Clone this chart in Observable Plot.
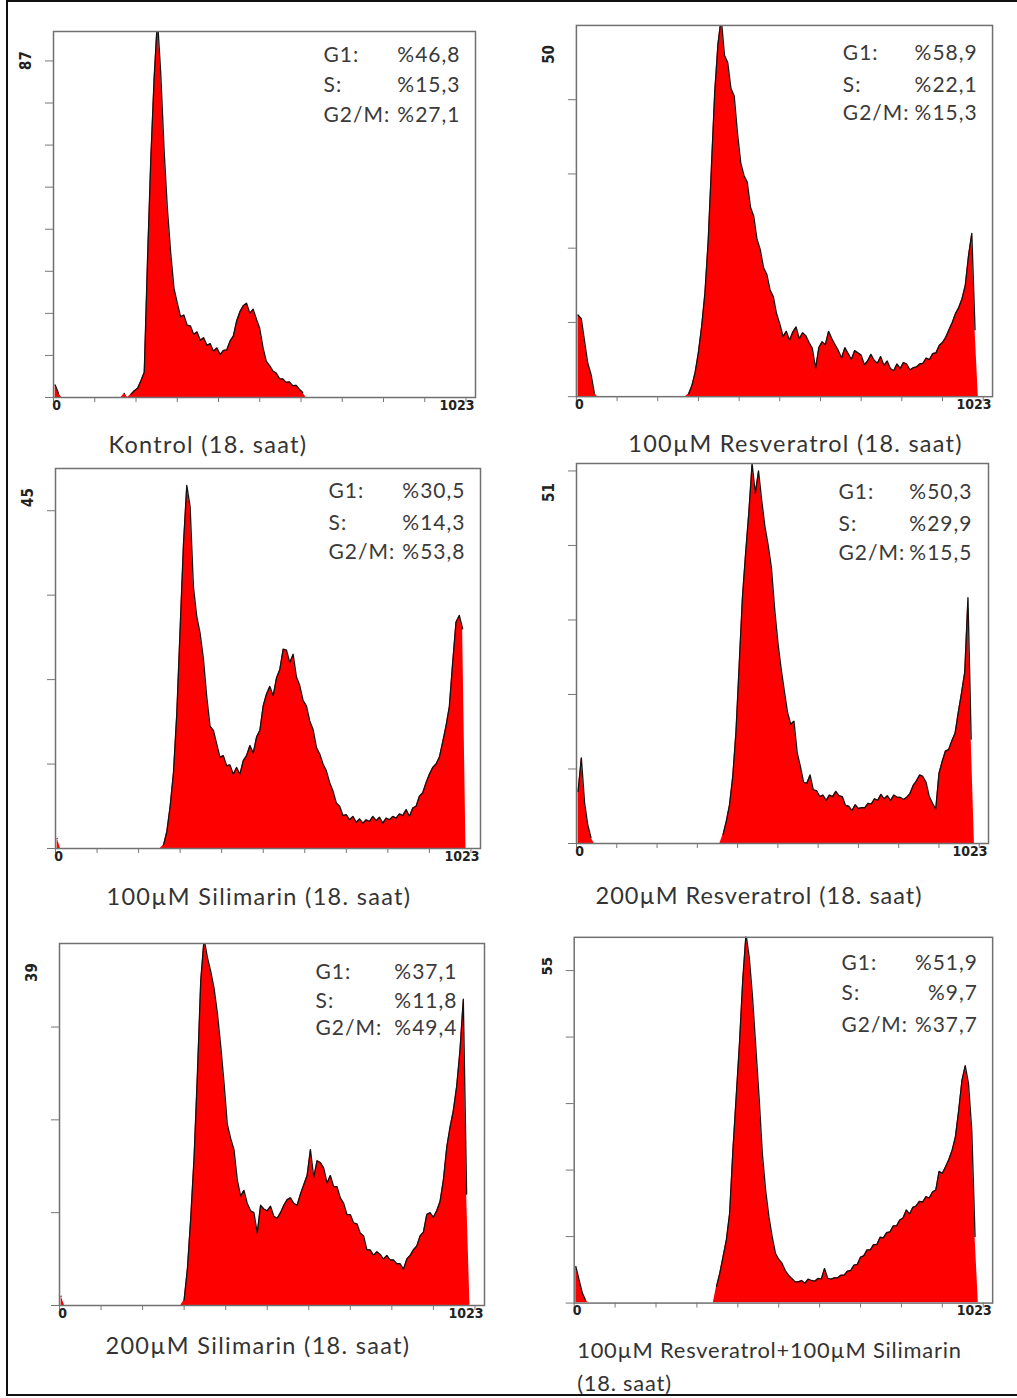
<!DOCTYPE html>
<html>
<head>
<meta charset="utf-8">
<script src="https://cdn.jsdelivr.net/npm/d3@7"></script>
<script src="https://cdn.jsdelivr.net/npm/@observablehq/plot@0.6"></script>
<style>
  html, body { margin: 0; padding: 0; background: #fff; }
  #page { position: relative; width: 1017px; height: 1398px; overflow: hidden; background: #fff; }
  #border { position: absolute; left: 6px; top: 0; width: 1030px; height: 1392px; border: 2px solid #111; border-right: none; }
  .cell { position: absolute; }
  .cell svg { overflow: visible; }
</style>
</head>
<body>
<div id="page"><div id="border"></div></div>
<script>
// ---------- data ----------
const titles = [
  "Kontrol (18. saat)",
  "100µM Resveratrol (18. saat)",
  "100µM Silimarin (18. saat)",
  "200µM Resveratrol (18. saat)",
  "200µM Silimarin (18. saat)",
  "100µM Resveratrol+100µM Silimarin\n(18. saat)"
];
const yMaxLabels = [87, 50, 45, 51, 39, 55];
const yTickValues = [
  [0, 10, 20, 30, 40, 50, 60, 70, 80],
  [0, 10, 20, 30, 40],
  [0, 10, 20, 30, 40],
  [0, 10, 20, 30, 40, 50],
  [0, 10, 20, 30],
  [0, 10, 20, 30, 40, 50]
];
const xTicks = [0, 100, 200, 300, 400, 500, 600, 700, 800, 900, 1000];
const xEndLabel = "1023";
const phaseNames = ["G1:", "S:", "G2/M:"];
const g1Values  = ["%46,8", "%58,9", "%30,5", "%50,3", "%37,1", "%51,9"];
const sValues   = ["%15,3", "%22,1", "%14,3", "%29,9", "%11,8", "%9,7"];
const g2mValues = ["%27,1", "%15,3", "%53,8", "%15,5", "%49,4", "%37,7"];
const binWidth = 8; // channels per histogram bin (128 bins over 0–1023)

// histogram counts, 128 bins each (16 per row)
const kontrol = [
  3, 1, 0, 0, 0, 0, 0, 0, 0, 0, 0, 0, 0, 0, 0, 0,
  0, 0, 0, 0, 0, 1, 0, 0.8, 1.6, 2.2, 4, 6, 33, 57, 76, 90,
  77, 59, 45, 34.5, 26, 22.5, 19.2, 19.6, 17.2, 17.0, 15.0, 15.6, 13.6, 14.2, 12.4, 12.8,
  11.0, 11.8, 10.2, 11.2, 11.3, 13.4, 14.6, 18.2, 20.4, 21.8, 22.4, 20.0, 21.0, 18.6, 16.4, 11.8,
  8.6, 7.6, 6.3, 5.8, 4.5, 4.4, 3.6, 3.7, 2.8, 2.9, 2.0, 1.2, 0, 0, 0, 0,
  0, 0, 0, 0, 0, 0, 0, 0, 0, 0, 0, 0, 0, 0, 0, 0,
  0, 0, 0, 0, 0, 0, 0, 0, 0, 0, 0, 0, 0, 0, 0, 0,
  0, 0, 0, 0, 0, 0, 0, 0, 0, 0, 0, 0, 0, 0, 0, 0
];
const resveratrol100 = [
  11, 10.5, 7.5, 4.5, 3, 0.5, 0, 0, 0, 0, 0, 0, 0, 0, 0, 0,
  0, 0, 0, 0, 0, 0, 0, 0, 0, 0, 0, 0, 0, 0, 0, 0,
  0, 0, 0.4, 1.5, 3.3, 6, 9.5, 14, 21, 31, 41, 47.5, 51, 46, 45, 41.5,
  40.5, 35.5, 31.5, 29.8, 28.9, 25.5, 24.3, 21.2, 19.8, 17.4, 16.5, 14.4, 13.5, 11.2, 9.8, 8.1,
  8.8, 7.6, 8.7, 9.4, 7.8, 8.6, 8.2, 7.3, 6.5, 3.8, 6.6, 7.4, 7, 8.8, 7.8, 7,
  6.2, 5.2, 6.6, 5.8, 5.0, 6.2, 5.9, 5.6, 4.3, 4.8, 5.7, 4.9, 4.5, 5.4, 4.2, 4.8,
  3.8, 3.5, 4.4, 3.8, 4.6, 4.4, 3.6, 3.9, 4.0, 4.4, 4.5, 5.2, 5.0, 5.8, 5.9, 6.9,
  7.3, 8, 9, 10, 11.2, 12, 13.2, 15, 19, 22, 9, 0, 0, 0, 0, 0
];
const silimarin100 = [
  1.2, 0, 0, 0, 0, 0, 0, 0, 0, 0, 0, 0, 0, 0, 0, 0,
  0, 0, 0, 0, 0, 0, 0, 0, 0, 0, 0, 0, 0, 0, 0, 0,
  0.4, 2, 5, 9, 16, 26, 36, 43, 40.5, 31, 27.5, 25.5, 22.5, 18, 14.5, 14,
  12.4, 10.8, 11.0, 9.8, 9.9, 8.8, 9.6, 8.8, 10.4, 11.0, 12.2, 11.3, 13.2, 14.0, 16.9, 18.3,
  19.2, 18.1, 20.2, 21.2, 23.6, 23.5, 22.0, 23.0, 20.3, 19.3, 17.5, 16.9, 15.1, 14.1, 12.0, 11.2,
  10.0, 9.2, 7.8, 6.8, 5.4, 5.0, 3.9, 4.0, 3.4, 3.8, 3.1, 3.5, 3.0, 3.4, 3.2, 3.8,
  3.3, 3.7, 3.0, 3.6, 3.4, 3.8, 3.6, 4.1, 3.9, 4.6, 3.8, 4.8, 5.0, 6.2, 6.6, 7.8,
  8.8, 9.6, 10, 10.8, 12.6, 14.5, 16.8, 22, 26.8, 27.6, 26, 0, 0, 0, 0, 0
];
const resveratrol200 = [
  7, 11.5, 5.5, 2.5, 0.8, 0, 0, 0, 0, 0, 0, 0, 0, 0, 0, 0,
  0, 0, 0, 0, 0, 0, 0, 0, 0, 0, 0, 0, 0, 0, 0, 0,
  0, 0, 0, 0, 0, 0, 0, 0, 0, 0, 0, 0, 0, 1.2, 3, 5.2,
  9, 15, 24, 33, 39, 44.5, 51, 47, 50, 46, 42.5, 40, 37, 31.5, 27, 23.5,
  20.5, 17.6, 16.0, 16.4, 12.2, 10.3, 8.2, 8.1, 9.2, 7.2, 7.1, 6.3, 6.5, 5.8, 6.5, 6.3,
  7.0, 6.4, 6.3, 5.1, 5.0, 4.4, 5.2, 4.7, 4.8, 4.8, 5.4, 5.3, 6.0, 5.8, 6.6, 6.0,
  6.4, 5.8, 6.5, 6.2, 6.2, 5.9, 6.2, 6.7, 7.8, 8.4, 9.2, 9.0, 8.2, 6.3, 5.4, 4.6,
  9.4, 11.0, 12.4, 12.6, 13.8, 14.8, 17.6, 20.2, 23, 33, 14, 0, 0, 0, 0, 0
];
const silimarin200 = [
  1, 0, 0, 0, 0, 0, 0, 0, 0, 0, 0, 0, 0, 0, 0, 0,
  0, 0, 0, 0, 0, 0, 0, 0, 0, 0, 0, 0, 0, 0, 0, 0,
  0, 0, 0, 0, 0, 0.6, 4, 9.5, 16, 25, 35, 39.5, 37.5, 36, 34.2, 31.5,
  28, 24, 19.5, 18, 16.8, 13.5, 11.8, 12.4, 11, 10.2, 10, 7.8, 10.8, 10.4, 10.2, 10.7,
  9.6, 9.4, 10, 10.8, 11.4, 11.6, 11, 10.8, 12, 13, 14, 16.8, 13.8, 15.6, 15.4, 14.8,
  13.2, 14.0, 12.8, 12.8, 11.6, 11.0, 9.8, 9.8, 8.9, 8.8, 7.8, 7.5, 6.0, 6.0, 5.4, 5.8,
  5.5, 5.0, 5.4, 4.9, 4.9, 4.5, 4.5, 3.9, 5.0, 5.4, 6.0, 6.4, 7.5, 7.9, 9.8, 10.0,
  9.5, 10.2, 11.2, 13.5, 17, 19.2, 21, 23.6, 27.5, 33, 12, 0, 0, 0, 0, 0
];
const combination = [
  5.5, 3.5, 1.5, 0.4, 0, 0, 0, 0, 0, 0, 0, 0, 0, 0, 0, 0,
  0, 0, 0, 0, 0, 0, 0, 0, 0, 0, 0, 0, 0, 0, 0, 0,
  0, 0, 0, 0, 0, 0, 0, 0, 0, 0, 0, 2.5, 4.5, 7, 9.5, 13.5,
  23, 31, 39, 48.5, 55.5, 52, 46, 38.5, 31, 22.5, 17, 13, 10, 7.5, 6.6, 6,
  4.9, 4.2, 3.7, 3.2, 3.2, 3.4, 3.0, 3.6, 3.4, 3.3, 3.7, 3.6, 5.2, 3.7, 3.6, 3.8,
  3.8, 4.2, 4.2, 4.8, 4.9, 5.7, 5.8, 6.9, 7.1, 8.0, 8.0, 8.8, 8.8, 9.9, 9.8, 10.6,
  10.7, 11.6, 11.6, 12.5, 12.8, 14.0, 13.4, 14.4, 14.6, 15.3, 15.2, 16.0, 15.8, 16.7, 17.0, 19.8,
  19.5, 20.5, 21.6, 23, 25, 29, 33.5, 35.7, 33, 26, 10, 0, 0, 0, 0, 0
];
const series = [kontrol, resveratrol100, silimarin100, resveratrol200, silimarin200, combination];

// ---------- layout (page coordinates of each plot frame, text offsets and sizes) ----------
const layout = [
  {L: 53,  R: 475, T: 31,  B: 397,  tx: 55, ty: 44, tfs: 23.5, tls: 1.3, lx: 152, vx: 15, ay: [24, 54, 84]},
  {L: 576, R: 993, T: 25,  B: 397,  tx: 52, ty: 44, tfs: 23.5, tls: 1.3, lx: 150, vx: 15, ay: [28, 60, 88]},
  {L: 55,  R: 480, T: 468, B: 848,  tx: 51, ty: 45, tfs: 23.5, tls: 1.3, lx: 152, vx: 15, ay: [23, 55, 84]},
  {L: 576, R: 988, T: 463, B: 843,  tx: 19, ty: 49, tfs: 23.5, tls: 1.0, lx: 150, vx: 16, ay: [29, 61, 90]},
  {L: 59,  R: 484, T: 943, B: 1305, tx: 46, ty: 37, tfs: 23.5, tls: 1.3, lx: 169, vx: 27, ay: [29, 58, 85]},
  {L: 574, R: 995, T: 937, B: 1305, tx: 3,  ty: 61, tfs: 22,   tls: 0.8, lx: 152, vx: 15, ay: [26, 56, 89]}
];

const textFont = "Lato, 'Open Sans', sans-serif";
const axisFont = "'Liberation Sans Narrow', 'DejaVu Sans Condensed', 'Liberation Sans', sans-serif";
const page = document.getElementById("page");

series.forEach((counts, i) => {
  if (counts.length !== 128) throw new Error("series " + i + " has " + counts.length + " bins");
  const p = layout[i];
  const data = counts.map((c, k) => ({ch: k * binWidth + binWidth / 2, c}));
  const mL = 50, mT = 30, mR = 25, mB = 100;
  const w = p.R - p.L, h = p.B - p.T;
  const vals = [g1Values[i], sValues[i], g2mValues[i]];
  const annot = [];
  phaseNames.forEach((name, r) => {
    annot.push(Plot.text([name], {text: d => d, frameAnchor: "top-right", dx: -p.lx, dy: p.ay[r],
      textAnchor: "start", lineAnchor: "middle", fontSize: 21, fontFamily: textFont, fill: "#3a3a3a"}));
    annot.push(Plot.text([vals[r]], {text: d => d, frameAnchor: "top-right", dx: -p.vx, dy: p.ay[r],
      textAnchor: "end", lineAnchor: "middle", fontSize: 21, fontFamily: textFont, fill: "#3a3a3a"}));
  });
  const svg = Plot.plot({
    width: w + mL + mR,
    height: h + mT + mB,
    marginLeft: mL, marginTop: mT, marginRight: mR, marginBottom: mB,
    x: {domain: [0, 1023], label: null},
    y: {domain: [0, yMaxLabels[i]], label: null},
    style: {background: "transparent", overflow: "visible"},
    marks: [
      Plot.areaY(data, {x: "ch", y: "c", fill: "#ff0000", curve: "linear", clip: true}),
      Plot.lineY(data, {x: "ch", y: d => (d.c > 0 ? d.c : NaN), stroke: "#111", strokeWidth: 1.3, curve: "linear", clip: true}),
      Plot.frame({stroke: "#707070", strokeWidth: 1.5}),
      Plot.axisX({ticks: xTicks, tickSize: 5, tickFormat: () => "", stroke: "#777", label: null}),
      Plot.axisY({ticks: yTickValues[i], tickSize: 8, tickFormat: () => "", stroke: "#777", label: null}),
      Plot.text([yMaxLabels[i]], {text: d => String(d), frameAnchor: "top-left", dx: -27, dy: 29, rotate: -90,
        textAnchor: "middle", lineAnchor: "middle",
        fontSize: 15, fontWeight: "bold", fontFamily: axisFont, fill: "#222"}),
      Plot.text([0], {x: d => d, text: d => String(d), frameAnchor: "bottom", dy: 12, dx: 3,
        fontSize: 14, fontWeight: "bold", fontFamily: axisFont, fill: "#222"}),
      Plot.text([xEndLabel], {text: d => d, frameAnchor: "bottom-right", dy: 12, dx: -1, textAnchor: "end",
        fontSize: 14, fontWeight: "bold", fontFamily: axisFont, fill: "#222"}),
      ...annot,
      Plot.text([titles[i]], {text: d => d, frameAnchor: "bottom-left", dx: p.tx, dy: p.ty, textAnchor: "start",
        lineAnchor: "middle", lineHeight: 1.5, fontSize: p.tfs, fontFamily: textFont, fill: "#333"})
    ]
  });
  svg.querySelectorAll('g[font-size="21"]').forEach(g => g.style.letterSpacing = "1px");
  svg.querySelectorAll('g[font-size="' + p.tfs + '"]').forEach(g => g.style.letterSpacing = p.tls + "px");
  const cell = document.createElement("div");
  cell.className = "cell";
  cell.style.left = (p.L - mL) + "px";
  cell.style.top = (p.T - mT) + "px";
  cell.appendChild(svg);
  page.appendChild(cell);
});
</script>
</body>
</html>
